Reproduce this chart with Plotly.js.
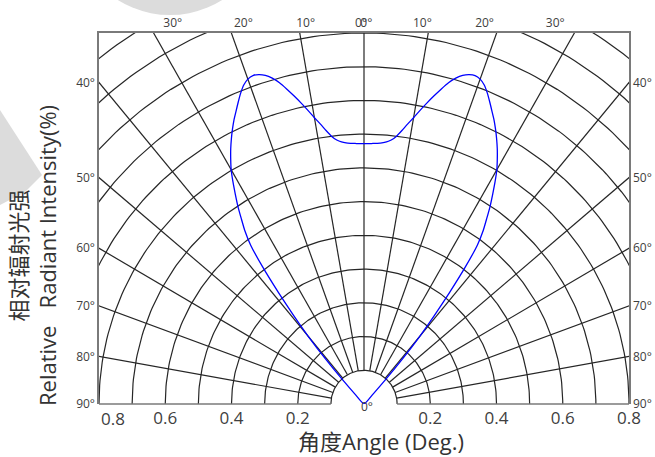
<!DOCTYPE html>
<html>
<head>
<meta charset="utf-8">
<script src="https://cdn.plot.ly/plotly-3.0.1.min.js"></script>
<style>html,body{margin:0;padding:0;background:#fff;}#chart{width:655px;height:457px;}</style>
</head>
<body>
<div id="chart"></div>
<script>
// ---- data ----
const curveAngles = [-44,-43,-42,-41,-40,-39,-38,-37,-36,-35,-34,-33,-32,-31,-30,-29,-28,-27,-26,-25,-24,-23,-22,-21,-20,-19,-18,-17,-16,-15,-14,-13,-12,-11,-10,-9,-8,-7,-6,-5,-4,-3,-2,-1,0,1,2,3,4,5,6,7,8,9,10,11,12,13,14,15,16,17,18,19,20,21,22,23,24,25,26,27,28,29,30,31,32,33,34,35,36,37,38,39,40,41,42,43,44];
const curveIntensity = [0.000,0.040,0.100,0.180,0.262,0.338,0.420,0.507,0.582,0.627,0.662,0.699,0.733,0.768,0.802,0.830,0.857,0.882,0.906,0.929,0.950,0.972,0.994,1.013,1.025,1.030,1.027,1.019,1.005,0.986,0.962,0.937,0.912,0.887,0.862,0.840,0.818,0.799,0.787,0.780,0.776,0.774,0.773,0.772,0.772,0.772,0.773,0.774,0.776,0.780,0.787,0.799,0.818,0.840,0.862,0.887,0.912,0.937,0.962,0.986,1.005,1.019,1.027,1.030,1.025,1.013,0.994,0.972,0.950,0.929,0.906,0.882,0.857,0.830,0.802,0.768,0.733,0.699,0.662,0.627,0.582,0.507,0.420,0.338,0.262,0.180,0.100,0.040,0.000];

const gridRadii = [0.1,0.2,0.3,0.4,0.5,0.6,0.7,0.8,0.9,1.0,1.1,1.2,1.3];
const spokeAngles = [-80,-70,-60,-50,-40,-30,-20,-10,0,10,20,30,40,50,60,70,80];

const xTickVals = [-0.8,-0.6,-0.4,-0.2,0.2,0.4,0.6,0.8];
const xTickText = ['0.8','0.6','0.4','0.2','0.2','0.4','0.6','0.8'];

const topAngles = [-30,-20,-10,0,0,10,20,30];
const topLabels = ['30°','20°','10°','0°','0°','10°','20°','30°'];

const sideAngles = [40,50,60,70,80,90];
const sideLabels = ['40°','50°','60°','70°','80°','90°'];

const xTitle = '角度Angle (Deg.)';
const yTitleCJK = '相对辐射光强';
const yTitleEN = 'Relative\u00a0\u00a0\u00a0Radiant Intensity(%)';
const centerLabel = '0°';

// ---- geometry ----
const D = Math.PI/180;
const XR = [-0.8, 0.8], YR = [0, 1.1];
const M = {l:99, r:26, t:33, b:53};
const PW = 655 - M.l - M.r, PH = 457 - M.t - M.b;
const px2paperX = p => (p - M.l)/PW;
const py2paperY = p => (457 - M.b - p)/PH;

// arcs
const ax = [], ay = [];
gridRadii.forEach(r => {
  for (let a = -90; a <= 90; a += 1) { ax.push(r*Math.sin(a*D)); ay.push(r*Math.cos(a*D)); }
  ax.push(null); ay.push(null);
});
// spokes
const sx = [], sy = [];
spokeAngles.forEach(a => {
  const r0 = gridRadii[0], r1 = 2.0;
  sx.push(r0*Math.sin(a*D), r1*Math.sin(a*D), null);
  sy.push(r0*Math.cos(a*D), r1*Math.cos(a*D), null);
});
// curve
const cx = curveAngles.map((a,i) => curveIntensity[i]*Math.sin(a*D));
const cy = curveAngles.map((a,i) => curveIntensity[i]*Math.cos(a*D));

// tick positions from angles
const topPos = topAngles.map((a,i) => a === 0 ? (i < 4 ? -0.009 : 0.007) : Math.tan(a*D) * 1.0);
const sidePos = sideAngles.map(a => Math.abs(XR[1]) / Math.tan(a*D));

const gridColor = '#262626';
const frameColor = '#7a7a7a';
const txtColor = '#404040';
const fam = 'Open Sans, Noto Sans CJK SC, sans-serif';

const traces = [
  {x: ax, y: ay, mode:'lines', line:{color:gridColor, width:1.2}, hoverinfo:'skip', showlegend:false, xaxis:'x', yaxis:'y'},
  {x: sx, y: sy, mode:'lines', line:{color:gridColor, width:1.2}, hoverinfo:'skip', showlegend:false, xaxis:'x', yaxis:'y'},
  {x: cx, y: cy, mode:'lines', line:{color:'#0000ff', width:1.3, shape:'spline', smoothing:0.5}, showlegend:false, xaxis:'x2', yaxis:'y2'}
];

const tickFontSmall = {family:fam, size:12, color:txtColor};
const tickFontBig = {family:fam, size:17, color:txtColor};

// the leftmost bottom label is drawn nudged inward (as in the reference), the rest as axis tick labels
const shownX = xTickVals.map((v,i) => i === 0 ? '' : xTickText[i]);

const inner = gridRadii[0];
const layout = {
  width:655, height:457,
  margin:M,
  paper_bgcolor:'#ffffff', plot_bgcolor:'rgba(0,0,0,0)',
  showlegend:false,
  xaxis:{range:XR, tickmode:'array', tickvals:xTickVals, ticktext:shownX, tickangle:0,
         showgrid:false, zeroline:false, showline:false, ticks:'', ticklabelstandoff:2,
         tickfont:tickFontBig},
  xaxis2:{range:XR, overlaying:'x', side:'top', tickmode:'array', tickvals:topPos, ticktext:topLabels, tickangle:0,
          showgrid:false, zeroline:false, showline:true, linecolor:frameColor, linewidth:1.6, ticks:'',
          tickfont:tickFontSmall},
  yaxis:{range:YR, tickmode:'array', tickvals:sidePos, ticktext:sideLabels,
         showgrid:false, zeroline:false, showline:true, linecolor:frameColor, linewidth:1.6, ticks:'',
         tickfont:tickFontSmall},
  yaxis2:{range:YR, overlaying:'y', side:'right', tickmode:'array', tickvals:sidePos, ticktext:sideLabels,
          showgrid:false, zeroline:false, showline:true, linecolor:frameColor, linewidth:1.6, ticks:'',
          tickfont:tickFontSmall},
  shapes:[
    // bottom frame, broken inside the inner semicircle
    {type:'line', xref:'paper', yref:'paper', x0:0, x1:(-inner - XR[0])/(XR[1]-XR[0]), y0:0, y1:0,
     line:{color:frameColor, width:1.6}},
    {type:'line', xref:'paper', yref:'paper', x0:(inner - XR[0])/(XR[1]-XR[0]), x1:1, y0:0, y1:0,
     line:{color:frameColor, width:1.6}},
    // faint grey watermark fragments
    {type:'circle', xref:'paper', yref:'paper', layer:'below',
     x0:px2paperX(72), x1:px2paperX(268), y0:py2paperY(-180), y1:py2paperY(15),
     fillcolor:'#dcdcdc', line:{width:0}},
    {type:'path', xref:'paper', yref:'paper', layer:'below',
     path:'M '+px2paperX(0)+' '+py2paperY(110)+' L '+px2paperX(42)+' '+py2paperY(175)+' L '+px2paperX(25)+' '+py2paperY(192)+' L '+px2paperX(0)+' '+py2paperY(205)+' Z',
     fillcolor:'#dcdcdc', line:{width:0}}
  ],
  annotations:[
    {text:yTitleCJK+'<br>'+yTitleEN, xref:'paper', yref:'paper',
     x:px2paperX(33), y:py2paperY(256), xanchor:'center', yanchor:'middle',
     textangle:-90, showarrow:false, font:{family:fam, size:22, color:'#333333'}},
    {text:xTitle, xref:'paper', yref:'paper', x:px2paperX(381), y:py2paperY(441), xanchor:'center', yanchor:'middle',
     showarrow:false, font:{family:fam, size:22, color:'#333333'}},
    {text:xTickText[0], xref:'x', yref:'y', x:xTickVals[0], y:0, xanchor:'center', yanchor:'middle',
     xshift:14, yshift:-14, showarrow:false, font:tickFontBig},
    {text:centerLabel, xref:'x', yref:'y', x:0, y:0, xanchor:'center', yanchor:'middle', xshift:3, yshift:-2,
     showarrow:false, font:tickFontSmall}
  ]
};

Plotly.newPlot('chart', traces, layout, {displayModeBar:false, staticPlot:true});
</script>
</body>
</html>
